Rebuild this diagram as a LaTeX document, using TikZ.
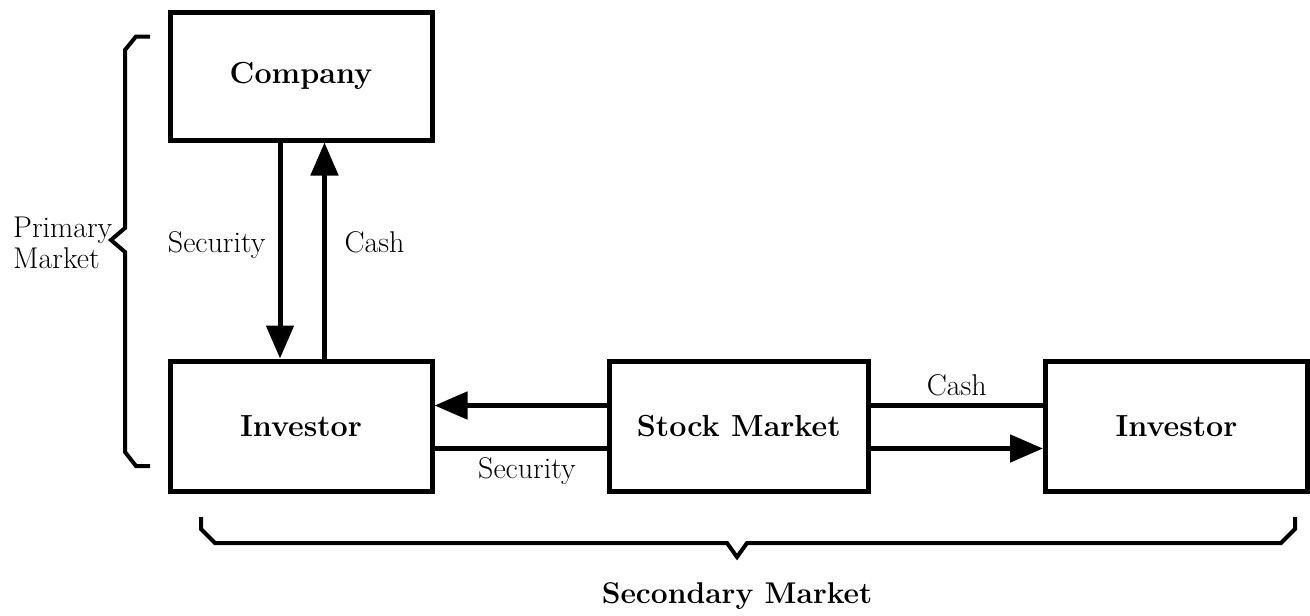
\documentclass[tikz,border=0pt]{standalone}
\usepackage{fontspec}
\usetikzlibrary{arrows.meta}
\tikzset{
  box/.style={draw, line width=5pt, minimum width=262pt, minimum height=130pt, inner sep=0pt,
    font=\fontsize{30.5}{34}\selectfont\bfseries},
  flow/.style={line width=5pt},
  arr/.style={flow, -{Triangle[length=33pt,width=27pt]}},
  lbl/.style={font=\fontsize{30}{34}\selectfont, inner sep=0pt},
  bigl/.style={font=\fontsize{30}{34}\selectfont\bfseries, inner sep=0pt},
  brace/.style={line width=4pt, line join=miter}
}
\begin{document}
\begin{tikzpicture}[x=1pt,y=-1pt]
  \path[fill=white] (0,0) rectangle (1310,616);
  \useasboundingbox (0,0) rectangle (1310,616);

  \node[box, minimum height=128pt] (company) at (301,76) {Company};
  \node[box] (inv1) at (301,426) {Investor};
  \node[box, minimum width=258.5pt] (stock) at (738.75,426) {Stock Market};
  \node[box] (inv2) at (1176.5,426) {Investor};

  % primary market flows
  \draw[arr] ([xshift=-21pt]company.south) -- ([xshift=-21pt]inv1.north)
    node[lbl, midway, anchor=base east, xshift=-12pt, yshift=-1.5pt] (seclbl1) {Security};
  \draw[arr] ([xshift=23.5pt]inv1.north) -- ([xshift=23.5pt]company.south)
    node[lbl, midway, anchor=base west, xshift=17.5pt, yshift=-1.5pt] (cashlbl1) {Cash};

  % secondary market flows
  \draw[arr] ([yshift=20.5pt]stock.west) -- ([yshift=20.5pt]inv1.east);
  \draw[flow] ([yshift=-22.5pt]inv1.east) -- ([yshift=-22.5pt]stock.west)
    node[lbl, pos=0.536, anchor=base, yshift=-29.5pt] (seclbl2) {Security};
  \draw[flow] ([yshift=20.5pt]stock.east) -- ([yshift=20.5pt]inv2.west)
    node[lbl, midway, anchor=base, yshift=10.5pt] (cashlbl2) {Cash};
  \draw[arr] ([yshift=-22.5pt]stock.east) -- ([yshift=-22.5pt]inv2.west);

  % braces
  \draw[brace] (150,36.5) -- (136,36.5) -- (125,50) -- (125,228) -- (111,240) -- (125,252)
    -- (125,452) -- (136,466) -- (150,466);
  \draw[brace] (201,517) -- (201,529) -- (215,543) -- (727,543) -- (737,557) -- (747,543)
    -- (1281,543) -- (1295,529) -- (1295,517);

  \node[lbl, anchor=base west] (prim1) at (13,237) {Primary};
  \node[lbl, anchor=base west] (prim2) at (13,268) {Market};
  \node[bigl, anchor=base] (secm) at (737,603) {Secondary Market};
\end{tikzpicture}
\end{document}
